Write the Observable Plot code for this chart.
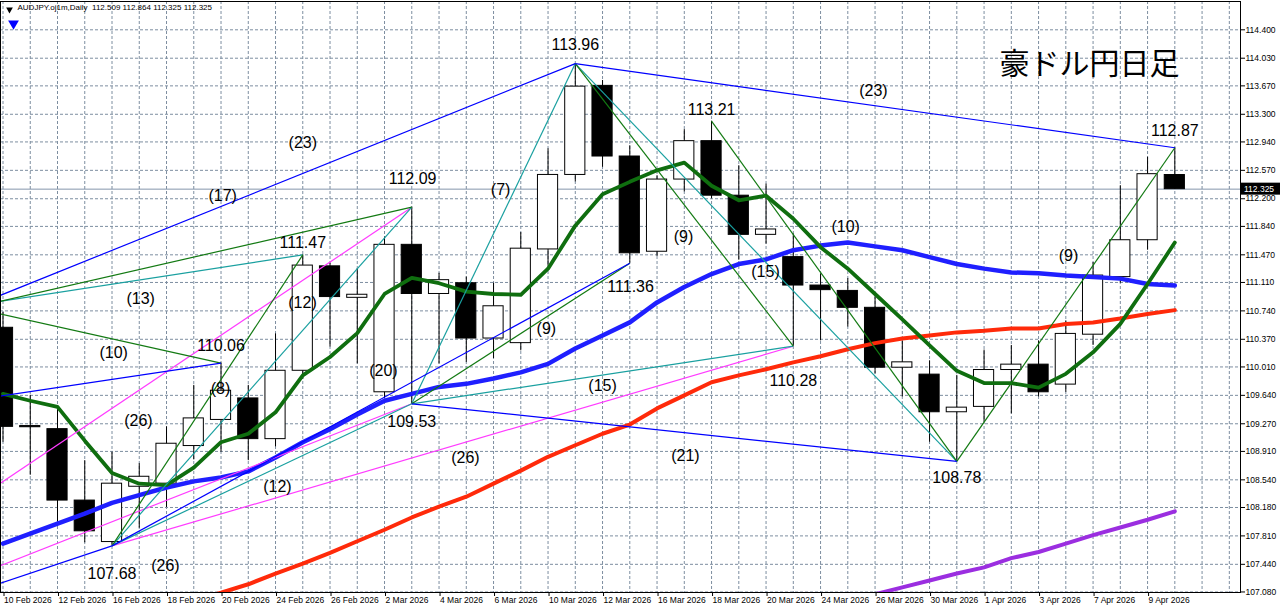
<!DOCTYPE html>
<html><head><meta charset="utf-8">
<script src="https://cdn.jsdelivr.net/npm/d3@7"></script>
<script src="https://cdn.jsdelivr.net/npm/@observablehq/plot@0.6"></script>
<style>body{margin:0;background:#fff}#chart{width:1280px;height:611px}</style>
</head><body><div id="chart"></div>
<script>
// ---- data ----
const dates = ["10 Feb 2026","11 Feb 2026","12 Feb 2026","13 Feb 2026","16 Feb 2026","17 Feb 2026","18 Feb 2026","19 Feb 2026","20 Feb 2026","23 Feb 2026","24 Feb 2026","25 Feb 2026","26 Feb 2026","27 Feb 2026","2 Mar 2026","3 Mar 2026","4 Mar 2026","5 Mar 2026","6 Mar 2026","9 Mar 2026","10 Mar 2026","11 Mar 2026","12 Mar 2026","13 Mar 2026","16 Mar 2026","17 Mar 2026","18 Mar 2026","19 Mar 2026","20 Mar 2026","23 Mar 2026","24 Mar 2026","25 Mar 2026","26 Mar 2026","27 Mar 2026","30 Mar 2026","31 Mar 2026","1 Apr 2026","2 Apr 2026","3 Apr 2026","6 Apr 2026","7 Apr 2026","8 Apr 2026","9 Apr 2026","10 Apr 2026"];
const open  = [110.52,109.24,109.20,108.27,107.73,108.45,108.49,108.98,109.32,109.60,109.07,109.96,111.32,110.91,109.68,111.60,110.96,111.10,110.38,110.32,111.54,112.51,113.67,112.75,111.51,112.45,112.95,112.24,111.73,111.44,111.07,111.00,110.78,110.00,109.91,109.42,109.49,109.97,110.04,109.78,110.43,111.18,111.66,112.509];
const high  = [110.72,109.64,109.49,108.79,108.90,108.75,109.23,109.77,110.06,109.77,110.44,111.47,111.36,111.29,111.70,112.09,111.23,111.18,111.10,111.76,112.85,113.96,113.74,112.89,112.50,113.10,113.21,112.63,112.39,111.74,111.22,111.16,110.92,110.35,110.09,109.90,110.23,110.29,110.35,110.61,111.37,112.37,112.74,112.864];
const low   = [109.03,108.60,107.99,107.72,107.68,107.91,108.18,108.80,108.90,108.79,108.97,109.85,110.27,110.05,109.60,109.53,110.05,110.07,110.12,110.22,111.32,112.42,112.61,111.36,111.45,112.29,112.20,111.40,111.61,110.28,110.35,110.53,109.92,109.62,109.03,108.78,109.29,109.40,109.62,109.68,110.29,111.10,111.53,112.325];
const close = [109.23,109.225,108.27,107.87,108.49,108.58,109.01,109.34,109.70,109.07,109.96,111.33,110.92,110.95,111.60,110.96,111.14,110.38,110.80,111.55,112.51,113.66,112.75,111.49,112.45,112.95,112.24,111.73,111.80,111.07,111.01,110.78,110.00,110.07,109.42,109.48,109.97,110.04,109.68,110.44,111.20,111.66,112.52,112.325];

const maGreen  = [109.66,109.57,109.49,109.05,108.63,108.49,108.47,108.70,109.03,109.14,109.42,109.90,110.14,110.45,110.96,111.17,111.10,110.99,110.96,110.95,111.29,111.85,112.26,112.42,112.57,112.67,112.37,112.18,112.24,111.94,111.57,111.29,110.96,110.63,110.29,109.96,109.80,109.80,109.74,109.92,110.20,110.57,111.09,111.63];
const maBlue   = [107.71,107.84,107.97,108.10,108.24,108.34,108.44,108.52,108.57,108.65,108.83,109.03,109.20,109.39,109.57,109.66,109.75,109.79,109.86,109.94,110.05,110.25,110.42,110.59,110.85,111.05,111.22,111.35,111.41,111.53,111.59,111.63,111.58,111.53,111.44,111.35,111.29,111.24,111.23,111.20,111.18,111.16,111.09,111.07];
const maRed    = [null,null,null,null,null,null,null,106.97,107.07,107.18,107.32,107.45,107.59,107.74,107.89,108.05,108.19,108.32,108.49,108.66,108.84,108.99,109.14,109.26,109.47,109.64,109.81,109.90,109.98,110.07,110.15,110.24,110.32,110.38,110.42,110.46,110.48,110.51,110.51,110.57,110.59,110.64,110.70,110.75];
const maPurple = [null,null,null,null,null,null,null,null,null,null,null,null,null,null,null,null,null,null,null,null,null,null,null,null,null,null,null,null,null,null,null,106.97,107.05,107.14,107.23,107.32,107.40,107.52,107.60,107.71,107.82,107.92,108.02,108.13];

const yTicks = [107.080,107.440,107.810,108.180,108.540,108.910,109.270,109.640,110.010,110.370,110.740,111.110,111.470,111.840,112.200,112.570,112.940,113.300,113.670,114.030,114.400];
const xTickIdx = [0,2,4,6,8,10,12,14,16,18,20,22,24,26,28,30,32,34,36,38,40,42];

// trend lines: [bar1, price1, bar2, price2]
const blueLines = [[-2,110.67,21,113.96],[21,113.96,43,112.864],[-2,109.53,8,110.06],[-11,105.90,4,107.68],[4,107.68,23,111.36],[15,109.53,35,108.78]];
const greenLines = [[-2,110.71,15,112.09],[-2,110.85,8,110.06],[4,107.68,11,111.47],[15,109.53,23,111.36],[21,113.96,29,110.28],[26,113.21,35,108.78],[35,108.78,43,112.864]];
const tealLines = [[-2,110.76,11,111.47],[4,107.68,15,112.09],[4,107.68,15,109.53],[15,109.53,21,113.96],[15,109.53,29,110.28],[21,113.96,35,108.78]];
const magentaLines = [[-11,105.90,15,112.09],[-11,105.90,15,109.53],[4,107.68,29,110.28]];

// labels: [bar, price, text]
const priceLabels = [[21,114.20,"113.96"],[15.03,112.46,"112.09"],[11,111.62,"111.47"],[8,110.29,"110.06"],[4,107.32,"107.68"],[15,109.29,"109.53"],[23.03,111.05,"111.36"],[26,113.36,"113.21"],[29,109.83,"110.28"],[35,108.57,"108.78"],[43,113.09,"112.87"]];
const countLabels = [[11,112.93,"(23)"],[31.94,113.60,"(23)"],[8.06,112.24,"(17)"],[5.05,110.90,"(13)"],[4.06,110.19,"(10)"],[4.97,109.31,"(26)"],[5.96,107.42,"(26)"],[16.97,108.83,"(26)"],[10.99,110.85,"(12)"],[10.07,108.45,"(12)"],[7.98,109.73,"(8)"],[13.96,109.96,"(20)"],[18.26,112.31,"(7)"],[24.97,111.71,"(9)"],[19.94,110.51,"(9)"],[39.1,111.45,"(9)"],[27.98,111.25,"(15)"],[22.0,109.76,"(15)"],[25.04,108.85,"(21)"],[30.92,111.83,"(10)"]];

const title = "豪ドル円日足";
const header = "AUDJPY.oj1m,Daily  112.509 112.864 112.325 112.325";

// ---- build ----
const bars = dates.map((d,i)=>({i,o:open[i],h:high[i],l:low[i],c:close[i]}));
const series = arr => arr.map((v,i)=>({i,v})).filter(d=>d.v!=null);
const segs = (arr,color)=>arr.map(([x1,y1,x2,y2])=>({x1,y1,x2,y2,color}));
const lines = [...segs(magentaLines,"#ff3cff"),...segs(tealLines,"#1aa0a0"),...segs(greenLines,"#137a13"),...segs(blueLines,"#0000ff")];
const half = 0.37;
const lab = {fontFamily:"'Liberation Sans',Arial,sans-serif",fontSize:16,fill:"#000",textAnchor:"middle",lineAnchor:"middle"};

const plot = Plot.plot({
  width:1280,height:611,marginTop:1,marginLeft:0,marginRight:40,marginBottom:19,
  x:{type:"linear",domain:[-0.092,45.41]},
  y:{type:"linear",domain:[107.073,114.7685]},
  color:{type:"identity"},
  style:{fontFamily:"'Liberation Sans',Arial,sans-serif",fontSize:"8.5px",background:"#fff",color:"#000",overflow:"visible"},
  marks:[
    Plot.gridY(yTicks,{stroke:"#7d8ea0",strokeOpacity:1,strokeDasharray:"3,2"}),
    Plot.gridX(d3.range(0,46),{stroke:"#7d8ea0",strokeOpacity:1,strokeDasharray:"3,2"}),
    Plot.ruleY([close[close.length-1]],{stroke:"#8496ac",strokeWidth:1}),
    Plot.ruleX(bars,{x:"i",y1:"l",y2:"h",stroke:"#000",strokeWidth:1}),
    Plot.rect(bars,{x1:d=>d.i-half,x2:d=>d.i+half,y1:"o",y2:"c",fill:d=>d.c>d.o?"#fff":"#000",stroke:"#000",strokeWidth:1}),
    Plot.line(series(maPurple),{x:"i",y:"v",stroke:"#9b2ee0",strokeWidth:4,clip:true}),
    Plot.line(series(maRed),{x:"i",y:"v",stroke:"#ff2a0a",strokeWidth:4,clip:true}),
    Plot.line(series(maBlue),{x:"i",y:"v",stroke:"#1f1fff",strokeWidth:4.5,clip:true}),
    Plot.line(series(maGreen),{x:"i",y:"v",stroke:"#0f6e0f",strokeWidth:3.8,clip:true}),
    Plot.link(lines,{x1:"x1",y1:"y1",x2:"x2",y2:"y2",stroke:"color",strokeWidth:1.2,clip:true}),
    Plot.text(priceLabels,{x:d=>d[0],y:d=>d[1],text:d=>d[2],...lab,letterSpacing:0.8}),
    Plot.text(countLabels,{x:d=>d[0],y:d=>d[1],text:d=>d[2],...lab}),
    Plot.text([title],{frameAnchor:"top-left",dx:1089,dy:63,textAnchor:"middle",lineAnchor:"middle",fontSize:30,fontFamily:"'Noto Sans CJK JP',sans-serif",fill:"#000"}),
    Plot.text([header],{frameAnchor:"top-left",dx:17,dy:3,textAnchor:"start",lineAnchor:"top",fontSize:8,fill:"#000"}),
    Plot.dot([0],{frameAnchor:"top-left",dx:9,dy:8,symbol:"triangle",rotate:180,r:2.5,fill:"#000",stroke:"none"}),
    Plot.dot([0],{frameAnchor:"top-left",dx:13,dy:22,symbol:"triangle",rotate:180,r:4,fill:"#0000ff",stroke:"none"}),
    Plot.axisY(yTicks,{anchor:"right",tickFormat:d3.format(".3f"),tickSize:4,tickPadding:1,label:null,fill:"#000"}),
    Plot.axisX(xTickIdx,{anchor:"bottom",tickFormat:i=>dates[i],tickSize:4,tickPadding:0,textAnchor:"start",dx:1,label:null,fill:"#000"}),
    Plot.frame({stroke:"#000"})
  ]
});

// current price tag on the right axis
const yb = plot.scale("y").apply(close[close.length-1]);
const xr = plot.scale("x").range[1];
const svg = d3.select(plot);
svg.append("rect").attr("x",xr+1).attr("y",yb-6).attr("width",39).attr("height",12).attr("fill","#000");
svg.append("text").attr("x",xr+4).attr("y",yb+3.5).attr("fill","#fff").attr("text-anchor","start")
  .attr("font-size","8.5px").attr("font-family","'Liberation Sans',Arial,sans-serif")
  .text(d3.format(".3f")(close[close.length-1]));
document.getElementById("chart").appendChild(plot);
</script>
</body></html>
